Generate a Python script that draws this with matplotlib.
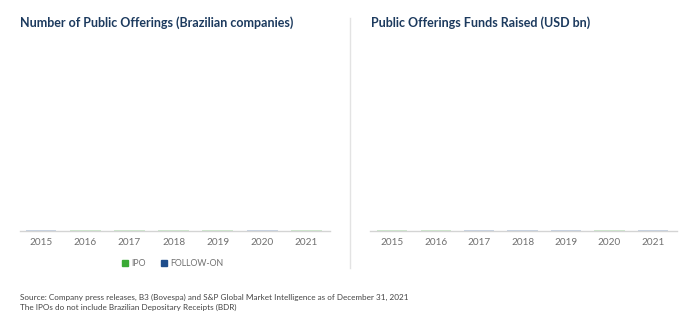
import matplotlib
matplotlib.use('Agg')
import matplotlib.pyplot as plt
from matplotlib.lines import Line2D

# ── Data (bars are captured flat at the baseline in the reference) ──────────
years = ['2015', '2016', '2017', '2018', '2019', '2020', '2021']
ipo_count = [0.2, 0.3, 0.4, 0.3, 0.4, 0.2, 0.4]
follow_on_count = [0.1, 0.1, 0.1, 0.1, 0.1, 0.3, 0.1]
ipo_usd = [0.3, 0.4, 0.2, 0.2, 0.2, 0.3, 0.2]
follow_on_usd = [0.1, 0.1, 0.1, 0.1, 0.1, 0.1, 0.1]

NAVY = '#1c3a5e'
GREEN = '#3aaa35'
BLUE = '#1f4e8c'
MUT = '#707070'
RULE = '#d4d4d4'

plt.rcParams['font.family'] = ['Lato', 'DejaVu Sans']

fig = plt.figure(figsize=(7.0, 3.31), dpi=100)
fig.patch.set_facecolor('white')


def style(ax):
    for side in ('top', 'right', 'left'):
        ax.spines[side].set_visible(False)
    ax.spines['bottom'].set_color(RULE)
    ax.spines['bottom'].set_linewidth(1.0)
    ax.set_yticks([])
    ax.tick_params(axis='x', length=0, labelsize=7.2, labelcolor=MUT, pad=5)
    ax.set_ylim(0, 100)


ax1 = fig.add_axes([0.0286, 0.302, 0.443, 0.58])
x = list(range(len(years)))
ax1.bar(x, ipo_count, width=0.7, color=GREEN, alpha=0.25)
ax1.bar(x, follow_on_count, width=0.7, bottom=ipo_count, color=BLUE, alpha=0.25)
ax1.set_xticks(x)
ax1.set_xticklabels(years)
ax1.set_xlim(-0.475, 6.54)
style(ax1)

ax2 = fig.add_axes([0.529, 0.302, 0.438, 0.58])
ax2.bar(x, ipo_usd, width=0.7, color=GREEN, alpha=0.25)
ax2.bar(x, follow_on_usd, width=0.7, bottom=ipo_usd, color=BLUE, alpha=0.25)
ax2.set_xticks(x)
ax2.set_xticklabels(years)
ax2.set_xlim(-0.506, 6.55)
style(ax2)

fig.text(20 / 700, 1 - 23 / 331, 'Number of Public Offerings (Brazilian companies)',
         color=NAVY, fontsize=9, fontweight='bold', ha='left', va='center')
fig.text(371 / 700, 1 - 23 / 331, 'Public Offerings Funds Raised (USD bn)',
         color=NAVY, fontsize=9, fontweight='bold', ha='left', va='center')

# separator between the two panels
fig.add_artist(Line2D([350 / 700, 350 / 700], [1 - 18 / 331, 1 - 268 / 331],
                      color='#e3e3e3', linewidth=1.0))

handles = [Line2D([], [], marker='s', linestyle='', color=GREEN, markersize=4.5),
           Line2D([], [], marker='s', linestyle='', color=BLUE, markersize=4.5)]
fig.legend(handles, ['IPO', 'FOLLOW-ON'], loc='center', bbox_to_anchor=(172 / 700, 1 - 264 / 331),
           ncol=2, frameon=False, fontsize=6.3, labelcolor=MUT, handletextpad=0.2,
           columnspacing=1.6, handlelength=1.0)

fig.text(20 / 700, 1 - 297 / 331,
         'Source: Company press releases, B3 (Bovespa) and S&P Global Market Intelligence as of December 31, 2021',
         color='#444444', fontsize=5.9, ha='left', va='center')
fig.text(20 / 700, 1 - 307 / 331,
         'The IPOs do not include Brazilian Depositary Receipts (BDR)',
         color='#444444', fontsize=5.9, ha='left', va='center')

fig.savefig('out.png', dpi=100, facecolor='white')
